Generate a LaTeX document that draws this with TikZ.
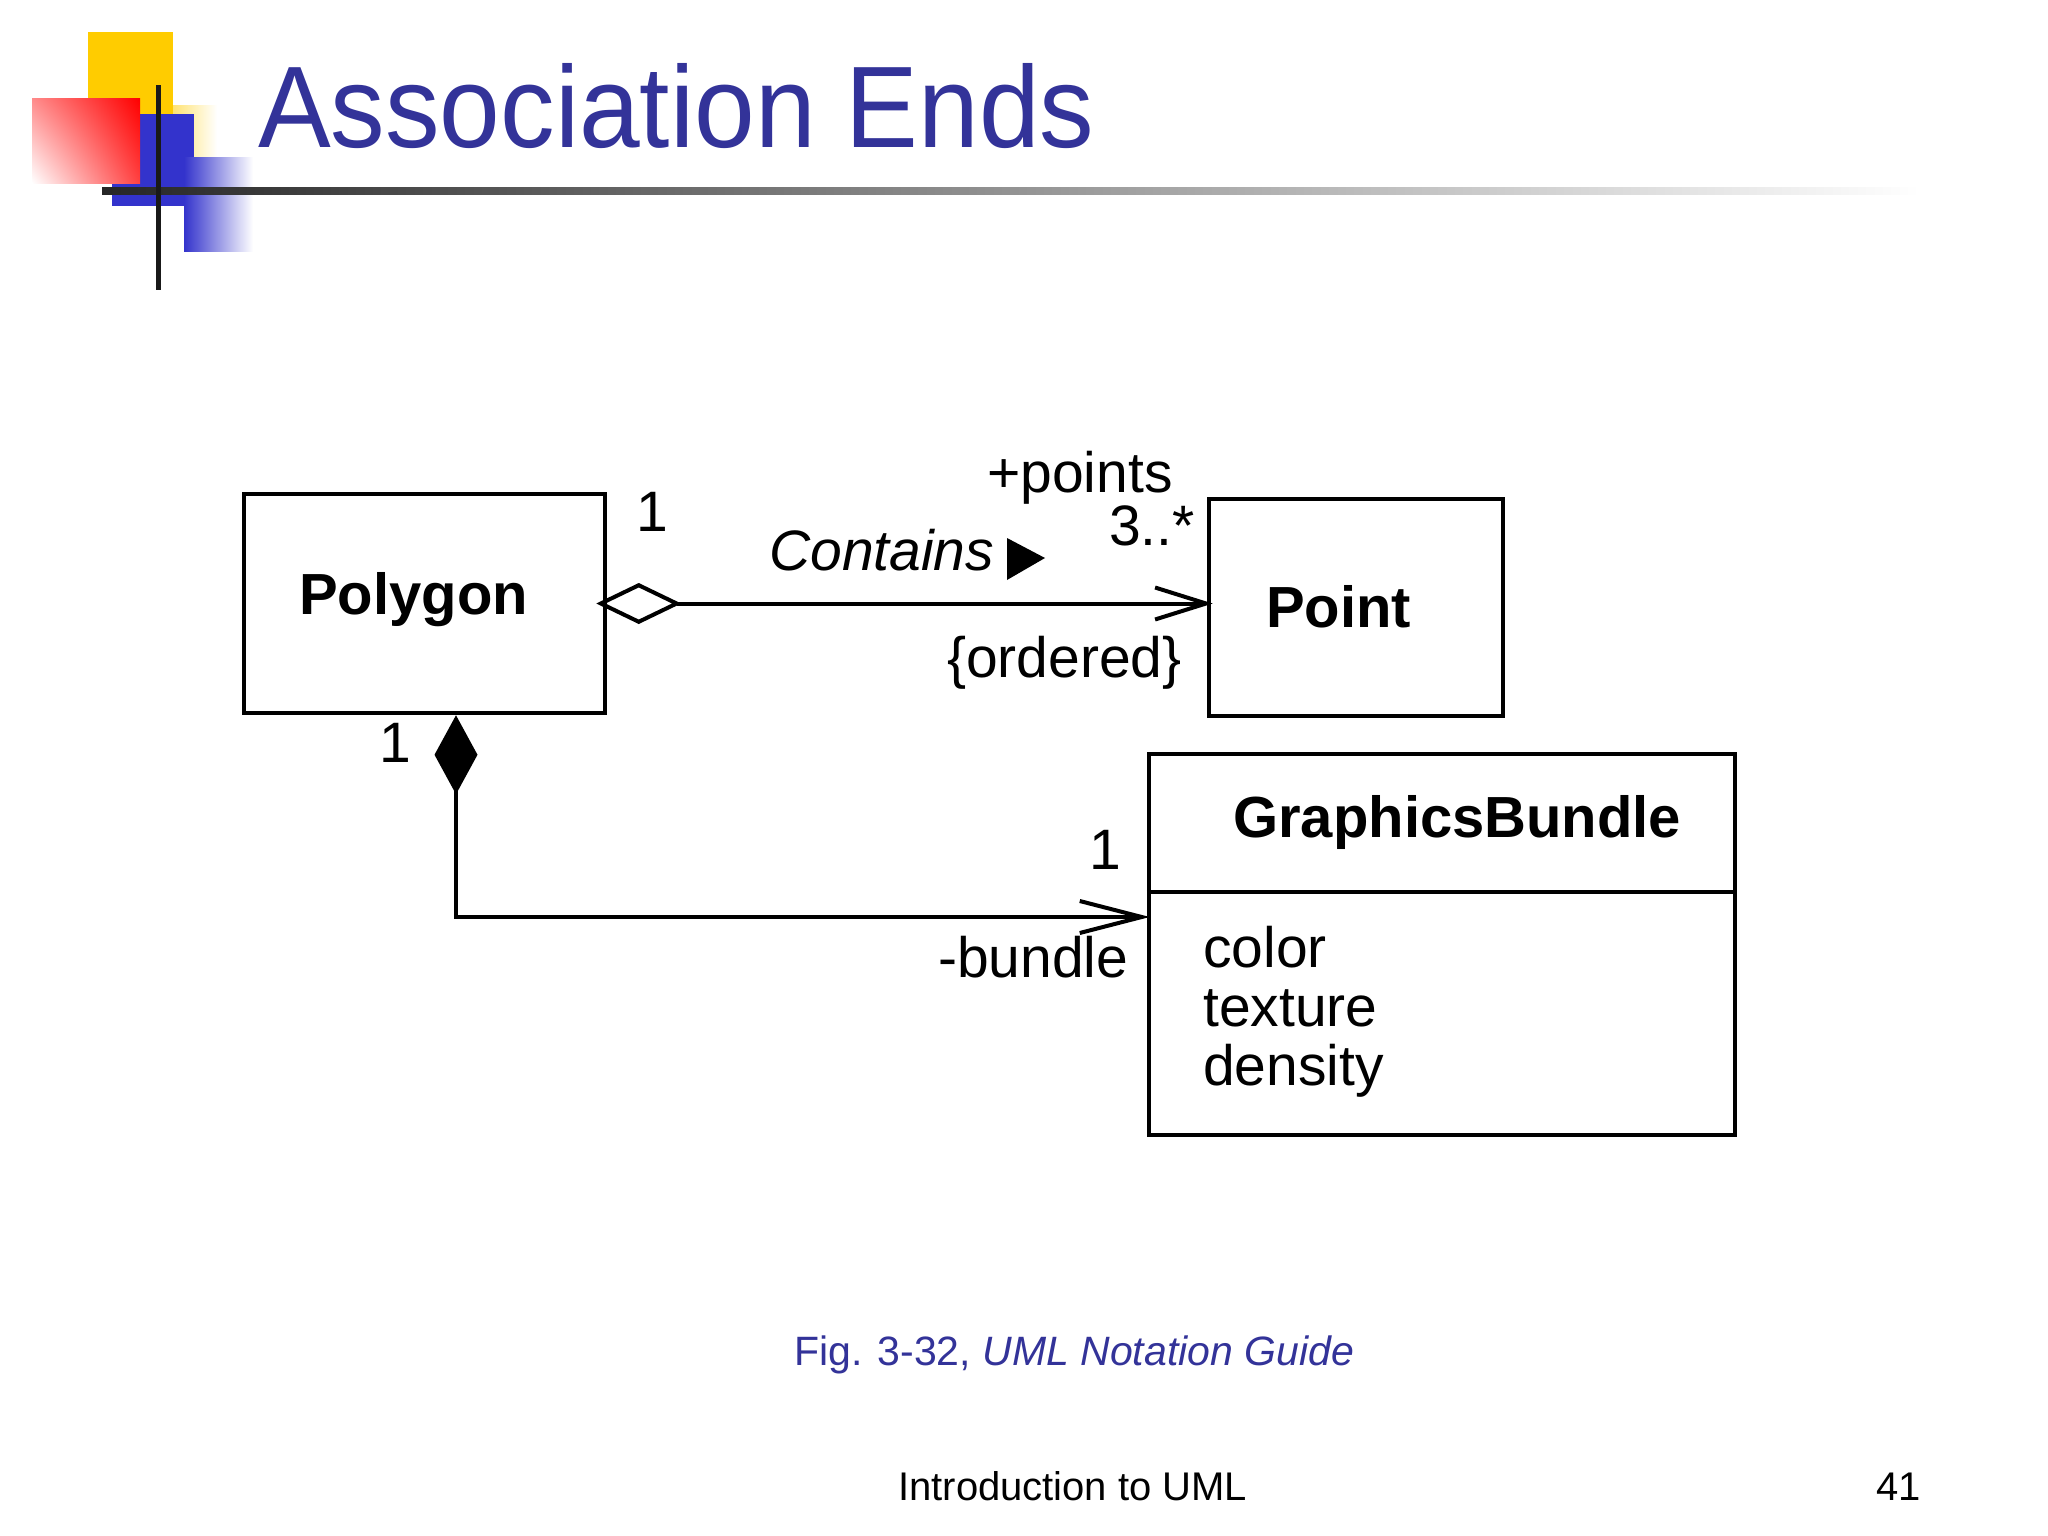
\documentclass[tikz,border=0pt]{standalone}
\usepackage{fontspec}
\setmainfont{Liberation Sans}
\newfontfamily\titlefont[FakeStretch=0.94]{Liberation Sans}
\usetikzlibrary{arrows.meta,shadings}
\definecolor{slideblue}{RGB}{51,51,153}
\definecolor{logoyellow}{RGB}{255,204,0}
\definecolor{logoblue}{RGB}{51,51,204}
\definecolor{logored}{RGB}{255,0,0}
\newcommand\pxsize[1]{\fontsize{#1}{#1}\selectfont}
\tikzset{
  classbox/.style={draw, line width=4.5pt, inner sep=0pt, fill=white},
  lbl/.style={inner sep=0pt, anchor=base west, font=\pxsize{57}},
  blbl/.style={inner sep=0pt, anchor=base west, font=\pxsize{58}\bfseries},
  conn/.style={line width=4pt},
}
\begin{document}
\begin{tikzpicture}[x=1pt,y=-1pt]
\useasboundingbox[fill=white] (0,0) rectangle (2048,1536);
% ---- logo ----
\fill[logoyellow] (88,32) rectangle (173,140);
\shade[left color=logoyellow!55!white, right color=white] (173,106) rectangle (217,157);
\fill[logoblue] (112,114) rectangle (194,206);
\shade[left color=logoblue, right color=white] (184,158) rectangle (253,251);
\shade[upper left=logored!45!white, upper right=logored, lower left=white, lower right=logored!75!white] (32,99) rectangle (140,183);
\shade[left color=black!85, middle color=black!55, right color=white] (102,187.5) rectangle (1920,194.5);
\fill[black!90] (155.5,85) rectangle (160.5,290);
% ---- title ----
\node[inner sep=0pt, anchor=base west, font=\titlefont\pxsize{116}, text=slideblue] (title) at (258,148) {Association Ends};
% ---- classes ----
\node[classbox, minimum width=361pt, minimum height=219pt] (poly) at (424.5,603.5) {};
\node[blbl] (polyname) at (299,614) {Polygon};
\node[classbox, minimum width=294pt, minimum height=217pt] (pt) at (1356,607.5) {};
\node[blbl] (ptname) at (1266,627) {Point};
\node[classbox, minimum width=586pt, minimum height=381pt] (gb) at (1442,944.5) {};
\coordinate (divy) at (0,892);
\draw[line width=4.5pt] (gb.west |- divy) -- (gb.east |- divy);
\node[blbl] (gbname) at (1233,837) {GraphicsBundle};
\node[lbl] (a1) at (1203,967) {color};
\node[lbl] (a2) at (1203,1026) {texture};
\node[lbl] (a3) at (1203,1085) {density};
% ---- aggregation ----
\draw[conn, {Diamond[open,length=85pt,width=41pt]}-{Straight Barb[length=51pt,width=32pt]}]
  ([xshift=-11pt]poly.east) -- ([xshift=6pt]pt.west |- poly.east);
\node[lbl] (m1) at (636,531) {1};
\node[lbl, font=\pxsize{57}\itshape] (contains) at (769,570) {Contains};
\fill (1007,538) -- (1045,558) -- (1007,580) -- cycle;
\node[lbl] (role1) at (987,492) {+points};
\node[lbl] (m2) at (1109,545) {3..*};
\node[lbl] (ord) at (947,677) {\{ordered\}};
% ---- composition ----
\coordinate (cbend) at (456,917);
\draw[conn, {Diamond[length=79pt,width=43pt]}-{Straight Barb[length=62pt,width=32pt]}]
  (cbend |- poly.south) -- (cbend) -- ([xshift=3pt]gb.west |- cbend);
\node[lbl] (m3) at (379,762) {1};
\node[lbl] (m4) at (1089,869) {1};
\node[lbl] (role2) at (938,977) {-bundle};
% ---- caption and footer ----
\node[inner sep=0pt, anchor=base west, font=\pxsize{41}, text=slideblue] (cap) at (794,1365) {Fig. 3-32, \textit{UML Notation Guide}};
\node[inner sep=0pt, anchor=base west, font=\pxsize{40}] (foot) at (898,1500) {Introduction to UML};
\node[inner sep=0pt, anchor=base east, font=\pxsize{40}] (pg) at (1921,1500) {41};
\end{tikzpicture}
\end{document}
